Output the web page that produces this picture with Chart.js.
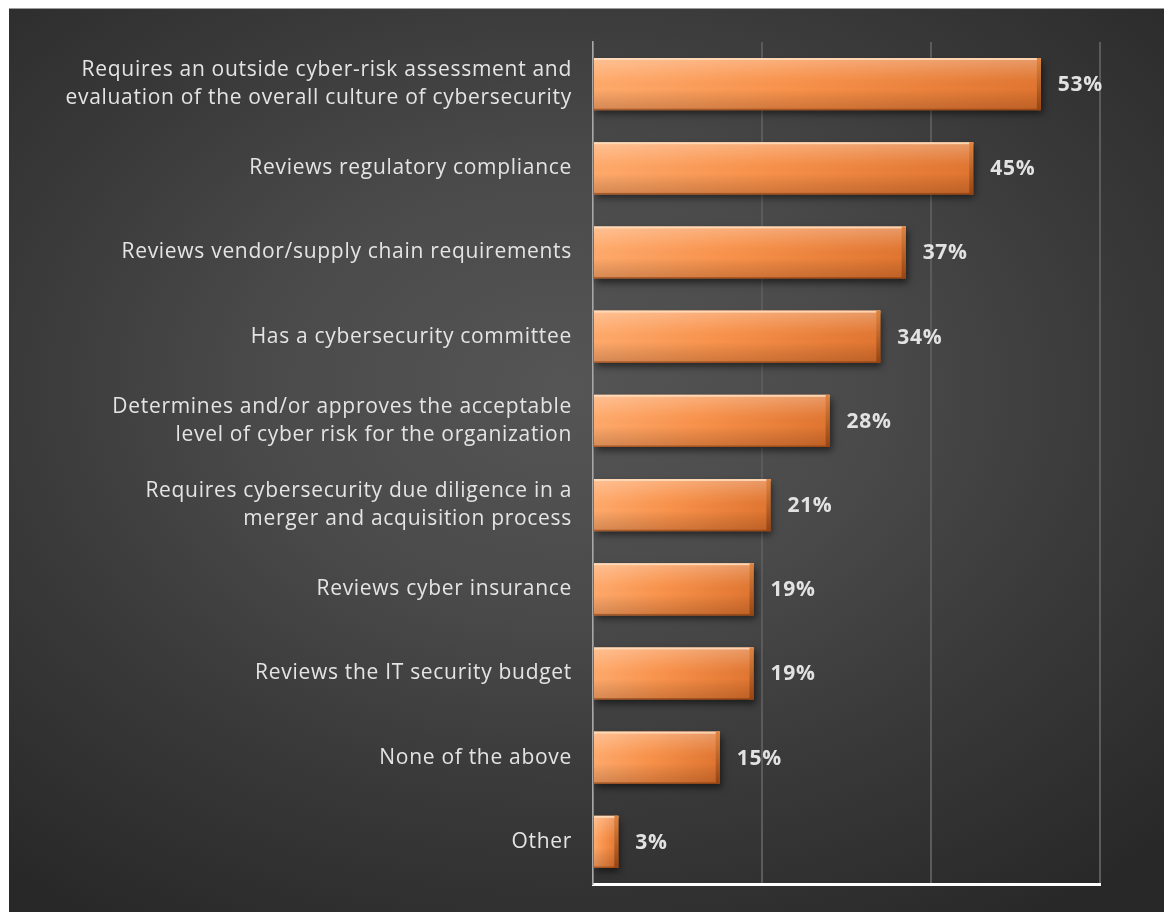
<!DOCTYPE html>
<html>
<head>
<meta charset="utf-8">
<script src="https://cdn.jsdelivr.net/npm/chart.js@4/dist/chart.umd.min.js"></script>
<style>
  html, body { margin: 0; padding: 0; background: #fff; overflow: hidden; }
  #panel {
    position: absolute;
    left: 9px;
    top: 8px;
    width: 1155px;
    height: 904px;
    border-top: 1px solid #9c9c9c;
    box-sizing: border-box;
    background: radial-gradient(ellipse 75% 70% at 48% 42%, #555555 0%, #4a4a4a 35%, #393939 65%, #282828 100%);
  }
  #boardChart { display: block; }
</style>
</head>
<body>
<div id="panel"><canvas id="boardChart" width="1155" height="903"></canvas></div>
<script>
// Survey answers, top to bottom
const categories = [
    ['Requires an outside cyber-risk assessment and', 'evaluation of the overall culture of cybersecurity'],
    'Reviews regulatory compliance',
    'Reviews vendor/supply chain requirements',
    'Has a cybersecurity committee',
    ['Determines and/or approves the acceptable', 'level of cyber risk for the organization'],
    ['Requires cybersecurity due diligence in a', 'merger and acquisition process'],
    'Reviews cyber insurance',
    'Reviews the IT security budget',
    'None of the above',
    'Other'
];
const percentValues = [53, 45, 37, 34, 28, 21, 19, 19, 15, 3];
const axisTicks = [0, 20, 40, 60];

const FONT = "'Open Sans', 'Liberation Sans', sans-serif";

// Horizontal orange gradient along each bar
function barFill(context) {
    const chart = context.chart;
    const xScale = chart.scales.x;
    if (!chart.chartArea || !xScale) return '#f08a40';
    const v = percentValues[context.dataIndex];
    const x0 = xScale.getPixelForValue(0);
    const x1 = xScale.getPixelForValue(v);
    const g = chart.ctx.createLinearGradient(x0, 0, Math.max(x1, x0 + 1), 0);
    g.addColorStop(0, '#ffaa6c');
    g.addColorStop(0.45, '#f8914a');
    g.addColorStop(1, '#e07530');
    return g;
}

// Drop shadow under the bars plus the bevel / end-cap shading
const barStyling = {
    id: 'barStyling',
    beforeDraw(chart) {
        chart.ctx.letterSpacing = '0.7px';
    },
    beforeDatasetDraw(chart) {
        const ctx = chart.ctx;
        ctx.save();
        ctx.shadowColor = 'rgba(0,0,0,0.55)';
        ctx.shadowBlur = 7;
        ctx.shadowOffsetX = 2;
        ctx.shadowOffsetY = 4;
    },
    afterDatasetDraw(chart, args) {
        const ctx = chart.ctx;
        ctx.restore();
        args.meta.data.forEach(bar => {
            const { x, y, base, height } = bar.getProps(['x', 'y', 'base', 'height'], true);
            const top = y - height / 2;
            const w = x - base;

            // light top, darker bottom
            const shade = ctx.createLinearGradient(0, top, 0, top + height);
            shade.addColorStop(0, 'rgba(255,255,255,0.28)');
            shade.addColorStop(0.4, 'rgba(255,255,255,0.03)');
            shade.addColorStop(0.6, 'rgba(0,0,0,0)');
            shade.addColorStop(1, 'rgba(70,20,0,0.22)');
            ctx.fillStyle = shade;
            ctx.fillRect(base, top, w, height);

            // top highlight
            ctx.fillStyle = 'rgba(255,222,190,0.85)';
            ctx.fillRect(base, top, w, 2);

            // bottom edge
            ctx.fillStyle = 'rgba(130,55,10,0.55)';
            ctx.fillRect(base, top + height - 1.5, w, 1.5);

            // bevelled end cap
            const cap = ctx.createLinearGradient(0, top, 0, top + height);
            cap.addColorStop(0, '#e08440');
            cap.addColorStop(1, '#964412');
            ctx.fillStyle = cap;
            ctx.fillRect(x - 4, top, 4, height);
        });
    },
    afterDatasetsDraw(chart) {
        const ctx = chart.ctx;
        const meta = chart.getDatasetMeta(0);
        ctx.save();
        ctx.font = 'bold 21px ' + FONT;
        ctx.fillStyle = '#e2e2e2';
        ctx.textAlign = 'left';
        ctx.textBaseline = 'middle';
        meta.data.forEach((bar, i) => {
            ctx.fillText(percentValues[i] + '%', bar.x + 17, bar.y + 1);
        });
        ctx.restore();
    }
};

const chart = new Chart(document.getElementById('boardChart').getContext('2d'), {
    type: 'bar',
    data: {
        labels: categories,
        datasets: [{
            data: percentValues,
            backgroundColor: barFill,
            borderWidth: 0,
            categoryPercentage: 1,
            barPercentage: 0.62
        }]
    },
    options: {
        indexAxis: 'y',
        responsive: false,
        animation: false,
        layout: { padding: { top: 33, right: 64, left: 0, bottom: 0 } },
        plugins: {
            legend: { display: false },
            tooltip: { enabled: false }
        },
        scales: {
            x: {
                min: axisTicks[0],
                max: axisTicks[axisTicks.length - 1],
                afterBuildTicks: scale => { scale.ticks = axisTicks.map(v => ({ value: v })); },
                afterFit: scale => {
                    scale.height = 28;
                    scale.paddingLeft = 0;
                    scale.paddingRight = 0;
                },
                ticks: { display: false },
                grid: { color: '#5b5b5b', lineWidth: 2, drawTicks: false },
                border: { color: '#ffffff', width: 3 }
            },
            y: {
                afterFit: scale => {
                    scale.width = 584;
                    scale.paddingTop = 0;
                    scale.paddingBottom = 0;
                },
                grid: { display: false, drawTicks: false },
                border: { color: '#a8a8a8', width: 1.5 },
                ticks: {
                    color: '#e4e4e4',
                    padding: 21,
                    font: { family: FONT, size: 21, lineHeight: 1.35 }
                }
            }
        }
    },
    plugins: [barStyling]
});
</script>
</body>
</html>
